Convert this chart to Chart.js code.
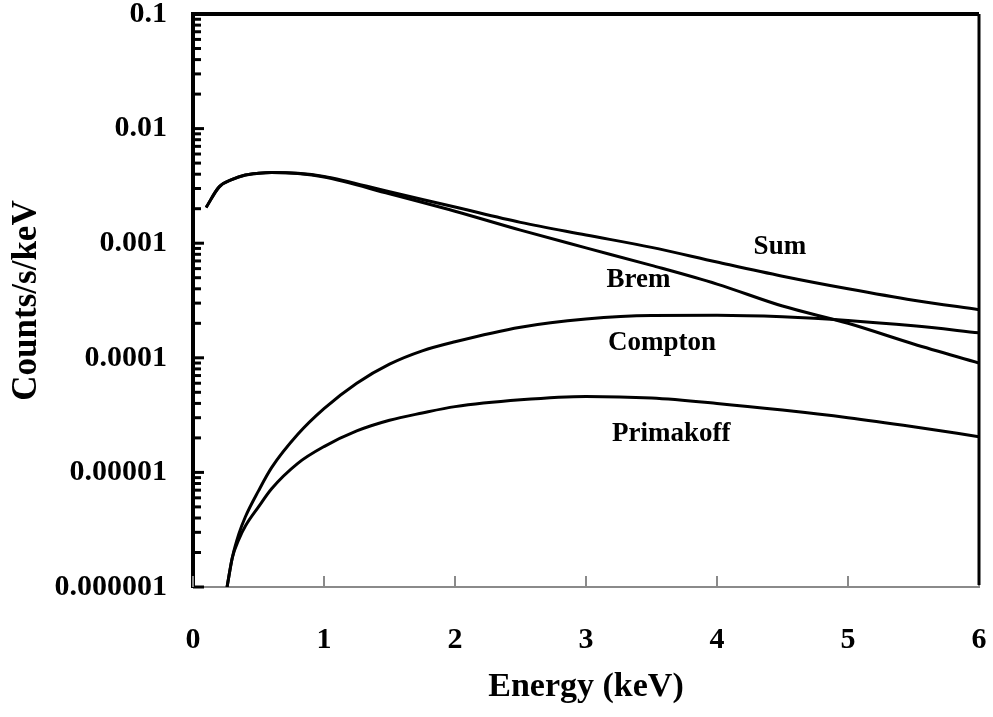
<!DOCTYPE html>
<html>
<head>
<meta charset="utf-8">
<title>Energy spectrum</title>
<script src="https://cdn.jsdelivr.net/npm/chart.js@4.4.1/dist/chart.umd.min.js"></script>
<style>
  html, body { margin: 0; padding: 0; background: #fff; }
  #wrap { width: 993px; height: 717px; position: relative; }
</style>
</head>
<body>
<div id="wrap"><canvas id="spectrum"></canvas></div>
<script>
// Energy grid (keV) for the bremsstrahlung / sum curves
const energyHigh = [0.1, 0.2, 0.3, 0.4, 0.5, 0.6, 0.8, 1.0, 1.5, 2.0, 2.5, 3.0, 3.5, 4.0, 4.5, 5.0, 5.5, 6.0];
const sumRate = [0.00205, 0.0031, 0.0036, 0.00394, 0.00408, 0.00414, 0.00408, 0.00383, 0.00281, 0.00207, 0.00152, 0.00118, 0.00092, 0.000685, 0.000515, 0.00040, 0.000318, 0.000263];
const bremRate = [0.00205, 0.0031, 0.0036, 0.00393, 0.00407, 0.00413, 0.00405, 0.00378, 0.0027, 0.0019, 0.0013, 0.00091, 0.00064, 0.00044, 0.000283, 0.00020, 0.000132, 0.00009];

// Energy grid (keV) for the Compton / Primakoff curves
const energyLow = [0.26, 0.3, 0.35, 0.4, 0.5, 0.6, 0.8, 1.0, 1.25, 1.5, 1.75, 2.0, 2.5, 3.0, 3.5, 4.0, 4.5, 5.0, 5.5, 6.0];
const comptonRate = [1e-6, 1.8e-6, 2.9e-6, 4.1e-6, 6.9e-6, 1.1e-5, 2.15e-5, 3.6e-5, 6.0e-5, 8.8e-5, 1.15e-4, 1.38e-4, 1.85e-4, 2.18e-4, 2.34e-4, 2.35e-4, 2.28e-4, 2.12e-4, 1.9e-4, 1.65e-4];
const primakoffRate = [1e-6, 1.8e-6, 2.6e-6, 3.4e-6, 5.0e-6, 7.2e-6, 1.2e-5, 1.68e-5, 2.3e-5, 2.85e-5, 3.3e-5, 3.75e-5, 4.3e-5, 4.6e-5, 4.45e-5, 4.0e-5, 3.5e-5, 3.0e-5, 2.5e-5, 2.05e-5];

// Axis ticks
const xTicks = [0, 1, 2, 3, 4, 5, 6];
const yDecades = [1e-6, 1e-5, 1e-4, 1e-3, 1e-2, 1e-1];
const yTickLabels = ['0.000001', '0.00001', '0.0001', '0.001', '0.01', '0.1'];

// Curve names placed next to each line (keV, counts/s/keV)
const curveLabels = [
  { text: 'Sum', e: 4.48, v: 9.3e-4 },
  { text: 'Brem', e: 3.40, v: 4.8e-4 },
  { text: 'Compton', e: 3.58, v: 1.35e-4 },
  { text: 'Primakoff', e: 3.65, v: 2.15e-5 }
];

const SERIF = "'Liberation Serif', 'Times New Roman', serif";

const pairs = (xs, ys) => xs.map((x, i) => ({ x: x, y: ys[i] }));

const curve = (label, xs, ys) => ({
  label: label,
  data: pairs(xs, ys),
  borderColor: '#000',
  borderWidth: 3,
  pointRadius: 0,
  fill: false,
  cubicInterpolationMode: 'monotone'
});

// Frame, inward tick marks and curve names
const frame = {
  id: 'frame',
  beforeDatasetsDraw(chart) {
    const { ctx, chartArea: a, scales: { x, y } } = chart;
    ctx.save();
    ctx.strokeStyle = '#000';
    ctx.lineWidth = 3;
    yDecades.forEach((d, i) => {
      const py = y.getPixelForValue(d);
      ctx.beginPath();
      ctx.moveTo(a.left, py);
      ctx.lineTo(a.left + 11, py);
      ctx.stroke();
      if (i === yDecades.length - 1) return;
      for (let k = 2; k <= 9; k++) {
        const pm = y.getPixelForValue(d * k);
        ctx.beginPath();
        ctx.moveTo(a.left, pm);
        ctx.lineTo(a.left + 8, pm);
        ctx.stroke();
      }
    });
    ctx.strokeStyle = '#8a8a8a';
    ctx.lineWidth = 2;
    xTicks.forEach(v => {
      const px = x.getPixelForValue(v);
      ctx.beginPath();
      ctx.moveTo(px, a.bottom);
      ctx.lineTo(px, a.bottom - 11);
      ctx.stroke();
    });
    ctx.restore();
  },
  afterDatasetsDraw(chart) {
    const { ctx, chartArea: a, scales: { x, y } } = chart;
    ctx.save();
    ctx.strokeStyle = '#000';
    ctx.lineWidth = 4;
    ctx.beginPath();
    ctx.moveTo(a.left - 2, a.top);
    ctx.lineTo(a.right, a.top);
    ctx.stroke();
    ctx.lineWidth = 3;
    ctx.beginPath();
    ctx.moveTo(a.right, a.top);
    ctx.lineTo(a.right, a.bottom - 2);
    ctx.stroke();

    ctx.fillStyle = '#000';
    ctx.font = 'bold 27px ' + SERIF;
    ctx.textAlign = 'center';
    ctx.textBaseline = 'middle';
    curveLabels.forEach(l => {
      ctx.fillText(l.text, x.getPixelForValue(l.e), y.getPixelForValue(l.v));
    });
    ctx.restore();
  }
};

new Chart(document.getElementById('spectrum'), {
  type: 'line',
  data: {
    datasets: [
      curve('Sum', energyHigh, sumRate),
      curve('Brem', energyHigh, bremRate),
      curve('Compton', energyLow, comptonRate),
      curve('Primakoff', energyLow, primakoffRate)
    ]
  },
  options: {
    responsive: true,
    maintainAspectRatio: false,
    animation: false,
    layout: { padding: { top: 14, right: 14, bottom: 0, left: 0 } },
    plugins: { legend: { display: false }, tooltip: { enabled: false } },
    scales: {
      x: {
        type: 'linear',
        min: 0,
        max: 6,
        afterBuildTicks: (scale) => { scale.ticks = xTicks.map(v => ({ value: v })); },
        afterFit: (scale) => {
          scale.height = 130;
          scale.paddingLeft = 0;
          scale.paddingRight = 0;
        },
        ticks: {
          color: '#000',
          padding: 35,
          font: { family: SERIF, size: 30, weight: 'bold' },
          callback: (v) => String(v)
        },
        grid: { drawOnChartArea: false, drawTicks: false },
        border: { color: '#8a8a8a', width: 2 },
        title: {
          display: true,
          text: 'Energy (keV)',
          color: '#000',
          font: { family: SERIF, size: 34, weight: 'bold' },
          padding: { top: 0, bottom: 9 }
        }
      },
      y: {
        type: 'logarithmic',
        min: 1e-6,
        max: 0.1,
        afterBuildTicks: (scale) => { scale.ticks = yDecades.map(v => ({ value: v })); },
        afterFit: (scale) => {
          scale.width = 193;
          scale.paddingTop = 0;
          scale.paddingBottom = 0;
        },
        ticks: {
          color: '#000',
          padding: 26,
          font: { family: SERIF, size: 30, weight: 'bold' },
          callback: (v, i) => yTickLabels[i]
        },
        grid: { drawOnChartArea: false, drawTicks: false },
        border: { color: '#000', width: 4 },
        title: {
          display: true,
          text: 'Counts/s/keV',
          color: '#000',
          font: { family: SERIF, size: 35, weight: 'bold' },
          padding: { top: 6, bottom: 0 }
        }
      }
    }
  },
  plugins: [frame]
});
</script>
</body>
</html>
